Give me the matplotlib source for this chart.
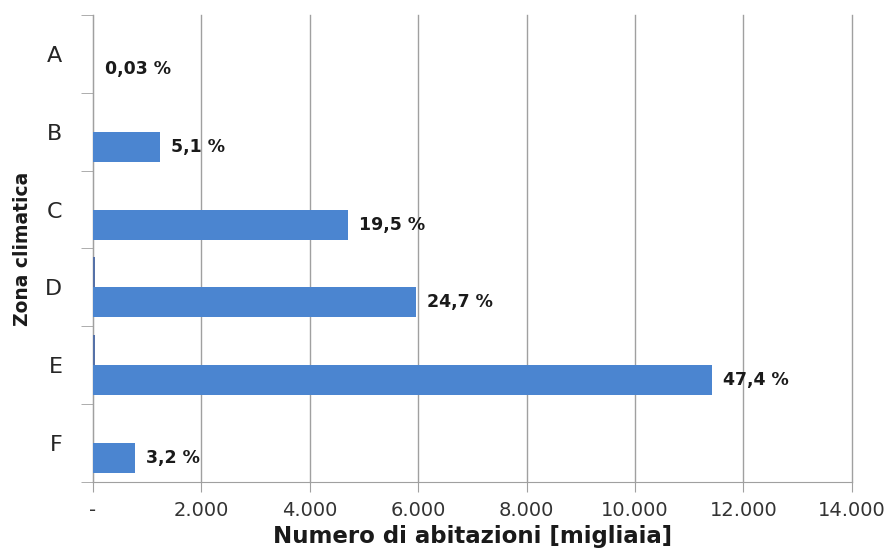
import numpy as np
import matplotlib.pyplot as plt
from matplotlib.ticker import FixedLocator

plt.rcParams['font.family'] = ['DejaVu Sans']

zone = ['A', 'B', 'C', 'D', 'E', 'F']
abitazioni = [7, 1230, 4700, 5960, 11420, 770]        # migliaia
altro = [0, 0, 0, 30, 45, 0]                           # thin second series
etichette = ['0,03 %', '5,1 %', '19,5 %', '24,7 %', '47,4 %', '3,2 %']
xticks = [0, 2000, 4000, 6000, 8000, 10000, 12000, 14000]
xlabels = ['-', '2.000', '4.000', '6.000', '8.000', '10.000', '12.000', '14.000']

fig = plt.figure(figsize=(8.86, 5.54), dpi=100)
ax = fig.add_axes([0.105, 0.130, 0.8565, 0.843])

pos = np.arange(len(zone))
h = 0.385
ax.barh(pos + h / 2, abitazioni, height=h, color='#4B85D0', zorder=3)
ax.barh(pos - h / 2, altro, height=h, color='#5571A8', zorder=3)

for p, v, t in zip(pos, abitazioni, etichette):
    ax.annotate(t, (v, p + h / 2), xytext=(8, 0), textcoords='offset points',
                ha='left', va='center', fontsize=12.5, fontweight='bold', color='#1a1a1a')

ax.set_xlim(0, 14000)
ax.set_ylim(len(zone) - 0.5, -0.5)

ax.set_xticks(xticks)
ax.set_xticklabels(xlabels, fontsize=14, color='#333333')
ax.tick_params(axis='x', length=7, color='#A0A0A0', pad=7)
ax.grid(axis='x', color='#A0A0A0', linewidth=1, zorder=0)
for gl in ax.get_xgridlines():
    gl.set_clip_on(False)

ax.set_yticks(pos)
ax.set_yticklabels(zone, fontsize=16, color='#262626')
ax.tick_params(axis='y', which='major', length=0, pad=22)
ax.yaxis.set_minor_locator(FixedLocator(np.arange(-0.5, len(zone) + 0.5, 1)))
ax.tick_params(axis='y', which='minor', length=9, color='#A0A0A0')

for s in ['top', 'right']:
    ax.spines[s].set_visible(False)
for s in ['left', 'bottom']:
    ax.spines[s].set_color('#A0A0A0')

ax.set_xlabel('Numero di abitazioni [migliaia]', fontsize=16.5, fontweight='bold',
              color='#1a1a1a', labelpad=3)
ax.set_ylabel('Zona climatica', fontsize=13.5, fontweight='bold', color='#1a1a1a')
ax.yaxis.set_label_coords(-0.08, 0.5)

fig.savefig('out.png', dpi=100)
